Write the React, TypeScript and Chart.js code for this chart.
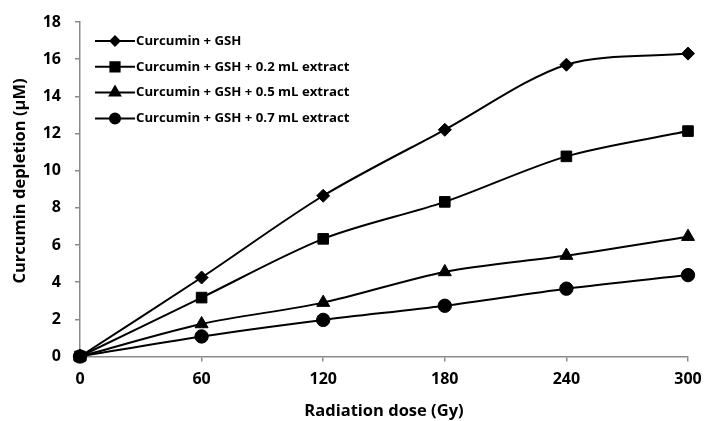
import React, { useEffect, useRef } from "react";
import { Chart, registerables } from "chart.js";
import { drawPoint } from "chart.js/helpers";

Chart.register(...registerables);

const doses = [0, 60, 120, 180, 240, 300];
const curcuminGsh = [0, 4.25, 8.65, 12.2, 15.7, 16.3];
const extract02 = [0, 3.17, 6.33, 8.32, 10.77, 12.13];
const extract05 = [0, 1.75, 2.9, 4.55, 5.43, 6.45];
const extract07 = [0, 1.08, 1.97, 2.73, 3.65, 4.38];
const seriesLabels = [
  "Curcumin + GSH",
  "Curcumin + GSH + 0.2 mL extract",
  "Curcumin + GSH + 0.5 mL extract",
  "Curcumin + GSH + 0.7 mL extract",
];
const xAxisTitle = "Radiation dose (Gy)";
const yAxisTitle = "Curcumin depletion (µM)";

const FONT = "'Open Sans', Lato, 'DejaVu Sans', sans-serif";
const AXIS_GREY = "#8a8a8a";

const markerStyles = ["rectRot", "rect", "triangle", "circle"];
const markerRadii = [6.5, 7.5, 7.5, 6.7];
const legendRadii = [4.5, 6.5, 6, 5];

const overlayPlugin = {
  id: "overlay",
  afterDraw(chart: any) {
    const ctx = chart.ctx;
    const area = chart.chartArea;
    const x0 = area.left + 15;
    const x1 = area.left + 55;
    const textX = area.left + 56;
    ctx.save();
    chart.data.datasets.forEach((ds: any, i: number) => {
      const y = area.top + 19 + i * 25.8;
      ctx.strokeStyle = "#000";
      ctx.lineWidth = 2;
      ctx.beginPath();
      ctx.moveTo(x0, y);
      ctx.lineTo(x1, y);
      ctx.stroke();
      ctx.fillStyle = "#000";
      drawPoint(
        ctx,
        { pointStyle: ds.pointStyle, radius: legendRadii[i], borderWidth: 1, rotation: 0 },
        (x0 + x1) / 2,
        y
      );
      ctx.fillStyle = "#000";
      ctx.font = `bold 13.2px ${FONT}`;
      ctx.textAlign = "left";
      ctx.textBaseline = "middle";
      ctx.fillText(ds.label, textX, y);
    });
    // y axis title
    ctx.translate(20, 181);
    ctx.rotate(-Math.PI / 2);
    ctx.font = `bold 16.5px ${FONT}`;
    ctx.textAlign = "center";
    ctx.textBaseline = "middle";
    ctx.fillStyle = "#000";
    ctx.fillText(yAxisTitle, 0, 0);
    ctx.restore();
  },
};

export default function App() {
  const canvasRef = useRef<HTMLCanvasElement | null>(null);

  useEffect(() => {
    document.body.style.margin = "0";
    const canvas = canvasRef.current;
    if (!canvas) return;
    const seriesValues = [curcuminGsh, extract02, extract05, extract07];
    const chart = new Chart(canvas, {
      type: "line",
      data: {
        datasets: seriesValues.map((vals, i) => ({
          label: seriesLabels[i],
          data: doses.map((d, j) => ({ x: d, y: vals[j] })),
          borderColor: "#000",
          backgroundColor: "#000",
          pointBackgroundColor: "#000",
          pointBorderColor: "#000",
          borderWidth: 2,
          pointStyle: markerStyles[i] as any,
          pointRadius: markerRadii[i],
          pointBorderWidth: 1,
          tension: 0.3,
          clip: false as any,
          fill: false,
        })),
      },
      options: {
        responsive: false,
        animation: false,
        devicePixelRatio: 1,
        layout: { padding: { top: 22, right: 17, left: 0, bottom: 0 } },
        plugins: {
          legend: { display: false },
          tooltip: { enabled: false },
        },
        scales: {
          x: {
            type: "linear",
            min: 0,
            max: 300,
            ticks: {
              stepSize: 60,
              padding: 8,
              color: "#000",
              font: { family: FONT, size: 16, weight: "bold" },
            },
            grid: {
              drawOnChartArea: false,
              drawTicks: true,
              tickLength: 5,
              color: AXIS_GREY,
              lineWidth: 1.5,
            },
            border: { display: true, color: AXIS_GREY, width: 1.5 },
            title: {
              display: true,
              text: xAxisTitle,
              color: "#000",
              font: { family: FONT, size: 16.5, weight: "bold" },
              padding: { top: 0, bottom: 0 },
            },
            afterFit(scale: any) {
              scale.height = 64.5;
              scale.paddingRight = 0;
              scale.paddingLeft = 0;
            },
          },
          y: {
            min: 0,
            max: 18,
            ticks: {
              stepSize: 2,
              padding: 14,
              color: "#000",
              font: { family: FONT, size: 16, weight: "bold" },
            },
            grid: {
              drawOnChartArea: false,
              drawTicks: true,
              tickLength: 5,
              color: AXIS_GREY,
              lineWidth: 1.5,
            },
            border: { display: true, color: AXIS_GREY, width: 1.5 },
            title: { display: false },
            afterFit(scale: any) {
              scale.width = 80;
              scale.paddingTop = 0;
              scale.paddingBottom = 0;
            },
          },
        },
      },
      plugins: [overlayPlugin],
    });
    return () => chart.destroy();
  }, []);

  return (
    <div style={{ width: 705, height: 421, background: "#fff" }}>
      <canvas ref={canvasRef} width={705} height={421} style={{ display: "block" }} />
    </div>
  );
}
